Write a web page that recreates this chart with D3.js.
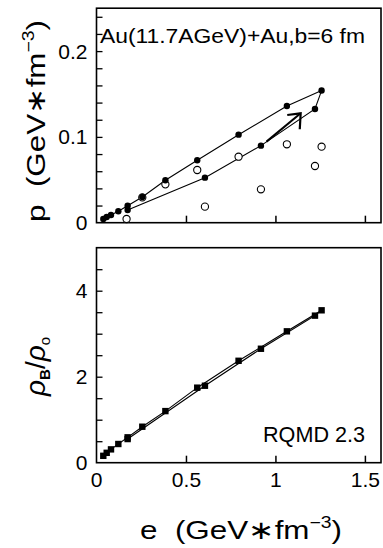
<!DOCTYPE html>
<html>
<head>
<meta charset="utf-8">
<script src="https://cdn.jsdelivr.net/npm/d3@7"></script>
<style>
  body { margin: 0; background: #fff; }
  svg { display: block; font-family: "Liberation Sans", Arial, Helvetica, sans-serif; }
</style>
</head>
<body>
<div id="chart"></div>
<script>
// time track of the collision (lower branch first, then back down the upper one)
const eTrack = [0.174, 0.606, 0.919, 1.221, 1.258, 1.064, 0.794, 0.563, 0.385, 0.256, 0.174, 0.122, 0.081, 0.057, 0.038];
const pTrack = [0.0148, 0.0525, 0.0898, 0.1325, 0.154, 0.136, 0.1026, 0.0727, 0.0494, 0.030, 0.0198, 0.0133, 0.009, 0.0066, 0.0044];
const rhoTrack = [0.55, 1.79, 2.65, 3.42, 3.544, 3.055, 2.37, 1.745, 1.20, 0.837, 0.59, 0.435, 0.31, 0.23, 0.16];

// open circles
const eOpen = [0.168, 0.256, 0.385, 0.563, 0.606, 0.794, 0.919, 1.064, 1.221, 1.258];
const pOpen = [0.0043, 0.0295, 0.0447, 0.0614, 0.0187, 0.0769, 0.0389, 0.0914, 0.0661, 0.0886];

// arrow along the track (shaft start, tip, head ends)
const arrowShaft = [[0.95, 0.0945], [1.141, 0.1275]];
const arrowHead = [[1.066, 0.1255], [1.141, 0.1275], [1.136, 0.1089]];

const xTicks = [0, 0.5, 1, 1.5];
const xTickLabels = ["0", "0.5", "1", "1.5"];
const pTicks = d3.range(0.02, 0.25, 0.02);
const pTickLabels = [0, 0.1, 0.2];
const rhoTicks = d3.range(0.5, 5, 0.5);
const rhoTickLabels = [0, 2, 4];

const W = 383, H = 548;
const svg = d3.select("#chart").append("svg")
  .attr("width", W)
  .attr("height", H);

let x = d3.scaleLinear().domain([0, 1.59]).range([96.5, 381]);
let yTop = d3.scaleLinear().domain([0, 0.25]).range([222.7, 8.2]);
let yBot = d3.scaleLinear().domain([0, 5]).range([462.7, 247.7]);

function frame(y) {
  svg.append("rect")
    .attr("x", x.range()[0])
    .attr("y", y.range()[1])
    .attr("width", x.range()[1] - x.range()[0])
    .attr("height", y.range()[0] - y.range()[1])
    .attr("fill", "none")
    .attr("stroke", "#000")
    .attr("stroke-width", 1.6);
}

function xAxis(y, labels) {
  let ax = d3.axisBottom(x)
    .tickValues(xTicks.slice(1))
    .tickSize(-7)
    .tickPadding(9)
    .tickFormat(labels ? ((d, i) => xTickLabels[i + 1]) : "");
  let g = svg.append("g")
    .attr("transform", "translate(0," + y.range()[0] + ")")
    .call(ax);
  g.select(".domain").remove();
  g.selectAll("line").attr("stroke-width", 1.5);
  g.selectAll("text").attr("font-size", 21).attr("fill", "#000");
  if (labels) {
    // label at zero sits under the corner
    g.append("text")
      .attr("x", x(0))
      .attr("y", 9)
      .attr("dy", "0.71em")
      .attr("text-anchor", "middle")
      .attr("font-size", 21)
      .attr("fill", "#000")
      .text(xTickLabels[0]);
  }
}

function yAxis(y, ticks, labels) {
  let ax = d3.axisLeft(y)
    .tickValues(ticks)
    .tickSize(-6)
    .tickFormat("");
  let g = svg.append("g")
    .attr("transform", "translate(" + x.range()[0] + ",0)")
    .call(ax);
  g.select(".domain").remove();
  g.selectAll("line").attr("stroke-width", 1.3);

  svg.append("g").selectAll("text")
    .data(labels)
    .enter().append("text")
    .attr("x", x.range()[0] - 9)
    .attr("y", d => y(d))
    .attr("dy", "0.36em")
    .attr("text-anchor", "end")
    .attr("font-size", 21)
    .text(d => d3.format("")(d));
}

// ---- top panel: pressure ----
frame(yTop);
xAxis(yTop, false);
yAxis(yTop, pTicks, pTickLabels);

let line = d3.line()
  .x(d => x(d[0]))
  .y(d => yTop(d[1]));

svg.append("path")
  .attr("d", line(d3.zip(eTrack, pTrack)))
  .attr("fill", "none")
  .attr("stroke", "#000")
  .attr("stroke-width", 1.1);

svg.append("g").selectAll("circle")
  .data(d3.zip(eOpen, pOpen))
  .enter().append("circle")
  .attr("cx", d => x(d[0]))
  .attr("cy", d => yTop(d[1]))
  .attr("r", 3.6)
  .attr("fill", "#fff")
  .attr("stroke", "#000")
  .attr("stroke-width", 1.1);

svg.append("g").selectAll("circle")
  .data(d3.zip(eTrack, pTrack))
  .enter().append("circle")
  .attr("cx", d => x(d[0]))
  .attr("cy", d => yTop(d[1]))
  .attr("r", 3.2)
  .attr("fill", "#000");

svg.append("path")
  .attr("d", line(arrowShaft))
  .attr("fill", "none")
  .attr("stroke", "#000")
  .attr("stroke-width", 2);
svg.append("path")
  .attr("d", line(arrowHead))
  .attr("fill", "none")
  .attr("stroke", "#000")
  .attr("stroke-width", 2.2);

svg.append("text")
  .attr("x", 100)
  .attr("y", 43)
  .attr("font-size", 20)
  .attr("textLength", 265)
  .attr("lengthAdjust", "spacingAndGlyphs")
  .text("Au(11.7AGeV)+Au,b=6 fm");

// ---- bottom panel: density ----
frame(yBot);
xAxis(yBot, true);
yAxis(yBot, rhoTicks, rhoTickLabels);

let lineB = d3.line()
  .x(d => x(d[0]))
  .y(d => yBot(d[1]));

svg.append("path")
  .attr("d", lineB(d3.zip(eTrack, rhoTrack)))
  .attr("fill", "none")
  .attr("stroke", "#000")
  .attr("stroke-width", 1.1);

svg.append("g").selectAll("rect")
  .data(d3.zip(eTrack, rhoTrack))
  .enter().append("rect")
  .attr("x", d => x(d[0]) - 3.2)
  .attr("y", d => yBot(d[1]) - 3.2)
  .attr("width", 6.4)
  .attr("height", 6.4)
  .attr("fill", "#000");

svg.append("text")
  .attr("x", 263)
  .attr("y", 442)
  .attr("font-size", 22)
  .attr("textLength", 102)
  .attr("lengthAdjust", "spacingAndGlyphs")
  .text("RQMD 2.3");

// ---- axis titles ----
let xt = svg.append("text")
  .attr("x", 140)
  .attr("y", 539)
  .attr("font-size", 26)
  .attr("textLength", 202)
  .attr("lengthAdjust", "spacingAndGlyphs");
xt.append("tspan").text("e\u00a0\u00a0(GeV\u2217fm");
xt.append("tspan").attr("font-size", 16).attr("dy", -11).text("\u22123");
xt.append("tspan").attr("dy", 11).text(")");

let yt = svg.append("text")
  .attr("transform", "translate(45,222) rotate(-90)")
  .attr("font-size", 26)
  .attr("textLength", 202)
  .attr("lengthAdjust", "spacingAndGlyphs");
yt.append("tspan").text("p\u00a0\u00a0(GeV\u2217fm");
yt.append("tspan").attr("font-size", 16).attr("dy", -11).text("\u22123");
yt.append("tspan").attr("dy", 11).text(")");

let rt = svg.append("text")
  .attr("transform", "translate(45,396) rotate(-90)")
  .attr("font-size", 28);
rt.append("tspan").attr("font-style", "italic").text("\u03c1");
rt.append("tspan").attr("font-size", 15).attr("font-weight", "bold").attr("dy", 5).text("B");
rt.append("tspan").attr("dy", -5).text("/");
rt.append("tspan").attr("font-style", "italic").text("\u03c1");
rt.append("tspan").attr("font-size", 15).attr("dy", 5).text("o");
</script>
</body>
</html>
